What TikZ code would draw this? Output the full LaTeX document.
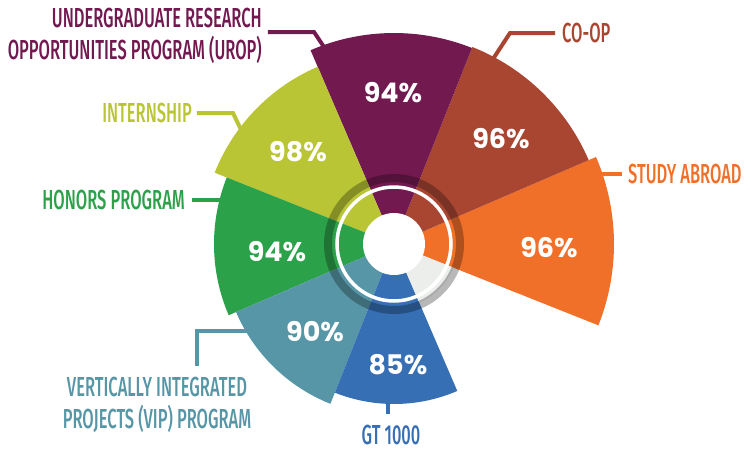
\documentclass[tikz,border=0pt]{standalone}
\usepackage{fontspec}
\usepackage{tikz}
\newfontfamily\tagfont[FakeStretch=0.6, BoldFont={Fira Sans Medium}]{Fira Sans}
\newfontfamily\pctfont{Poppins}
\definecolor{urop}{RGB}{114,25,80}
\definecolor{coop}{RGB}{168,70,50}
\definecolor{abroad}{RGB}{240,112,42}
\definecolor{intern}{RGB}{185,197,52}
\definecolor{honors}{RGB}{43,161,74}
\definecolor{vip}{RGB}{86,150,166}
\definecolor{gtk}{RGB}{55,111,181}
\definecolor{empty}{RGB}{236,238,236}

\begin{document}
\begin{tikzpicture}[x=1pt,y=1pt,
	lead/.style={line width=4},
	tag/.style={inner sep=0, font=\tagfont\bfseries\fontsize{27.5}{32}\selectfont},
	pct/.style={text=white, font=\pctfont\bfseries\fontsize{27}{30}\selectfont}]
	\useasboundingbox (-394,-207) rectangle (357,244);
	\coordinate (o) at (0,0);

	\node[tag, text=urop, align=right, anchor=east] (uropTag) at (-132,208) {UNDERGRADUATE RESEARCH\\OPPORTUNITIES PROGRAM (UROP)};
	\node[tag, text=coop, anchor=west] (coopTag) at (168,211) {CO-OP};
	\node[tag, text=abroad, anchor=west] (abroadTag) at (234,70) {STUDY ABROAD};
	\node[tag, text=intern, anchor=east] (internTag) at (-202,131) {INTERNSHIP};
	\node[tag, text=honors, anchor=east] (honorsTag) at (-209,44) {HONORS PROGRAM};
	\node[tag, text=vip, align=center, anchor=north] (vipTag) at (-237,-133) {VERTICALLY INTEGRATED\\PROJECTS (VIP) PROGRAM};
	\node[tag, text=gtk, anchor=base] (gtkTag) at (-3,-200) {GT 1000};

	\coordinate (uropBend) at (-80,212);
	\coordinate (uropEnd) at (-68,194);
	\coordinate (coopBend) at (116,211);
	\coordinate (coopEnd) at (99,185);
	\coordinate (abroadEnd) at (200,70);
	\coordinate (internBend) at (-161,131);
	\coordinate (internEnd) at (-149,106);
	\coordinate (honorsEnd) at (-165,44);
	\coordinate (vipBend) at (-197,-87);
	\coordinate (vipEnd) at (-140,-87);
	\coordinate (gtkEnd) at (-6,-150);
	\coordinate (vipTop) at ([yshift=11]vipTag.north);
	\coordinate (gtkTop) at ([yshift=10]gtkTag.north);

	\draw[lead, urop] ([xshift=6,yshift=4]uropTag.east) -- (uropBend) -- (uropEnd);
	\draw[lead, coop] ([xshift=-7]coopTag.west) -- (coopBend) -- (coopEnd);
	\draw[lead, abroad] ([xshift=-6]abroadTag.west) -- (abroadEnd);
	\draw[lead, intern] ([xshift=5]internTag.east) -- (internBend) -- (internEnd);
	\draw[lead, honors] ([xshift=7]honorsTag.east) -- (honorsEnd);
	\draw[lead, vip] (vipTop -| vipBend) -- (vipBend) -- (vipEnd);
	\draw[lead, gtk] (gtkTop -| gtkEnd) -- (gtkEnd);

	\foreach \a/\r/\c in {338.3/220/abroad, 23.3/212/coop, 68.3/211/urop, 113.3/193/intern,
		158.3/180/honors, 203.3/172/vip, 248.3/160/gtk, 293.3/64/empty}
		\fill[\c] (o) -- (\a:\r) arc[start angle=\a, end angle=\a+45, radius=\r] -- cycle;

	\draw[black, opacity=0.28, line width=8] (o) circle[radius=66];
	\draw[white, line width=3.5] (o) circle[radius=57];
	\fill[white] (o) circle[radius=31];

	\node[pct] (uropPct) at (-1,151) {94\%};
	\node[pct] (coopPct) at (107,105) {96\%};
	\node[pct] (abroadPct) at (155,-4) {96\%};
	\node[pct] (internPct) at (-96,92) {98\%};
	\node[pct] (honorsPct) at (-117,-8) {94\%};
	\node[pct] (vipPct) at (-79,-88) {90\%};
	\node[pct] (gtkPct) at (4,-121) {85\%};
\end{tikzpicture}
\end{document}
